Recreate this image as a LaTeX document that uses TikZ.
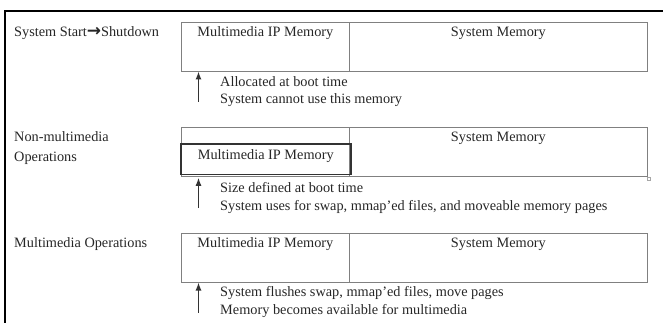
\documentclass[tikz,border=0pt]{standalone}
\usepackage{fontspec}
\setmainfont{Liberation Serif}
\newfontfamily\arrowfont{DejaVu Sans}
\usetikzlibrary{arrows.meta}
\begin{document}
\begin{tikzpicture}[x=1pt,y=-1pt,
  txt/.style={font=\fontsize{14.3}{17}\selectfont, text=black!85, inner sep=0pt, anchor=base west},
  ctxt/.style={txt, anchor=base},
  membox/.style={draw=black!50, line width=0.8pt, inner sep=0pt, anchor=north west, minimum height=49pt},
  mipbox/.style={draw=black!80, line width=1.6pt, inner sep=0pt, anchor=north west},
  uparr/.style={draw=black!80, line width=1.2pt, -{Latex[length=8pt,width=6pt]}},
  framestyle/.style={line width=2pt, draw=black}]
\useasboundingbox (0,0) rectangle (663,323);
% outer frame
\coordinate (fbl) at (4.5,323);
\coordinate (ftl) at (4.5,11);
\coordinate (ftr) at (663,11);
\draw[framestyle] (fbl) -- (ftl) -- (ftr);

% Row 1
\node[membox, minimum width=168pt] (mip1) at (181,21.7) {};
\node[membox, minimum width=298pt] (sys1) at (349,21.7) {};
\node[txt] (lab1) at (14,36.7) {System Start{\arrowfont\bfseries\fontsize{17}{17}\selectfont →}Shutdown};
\node[ctxt] (mipt1) at ([yshift=-15pt]mip1.north) {Multimedia IP Memory};
\node[ctxt] (syst1) at ([yshift=-15pt]sys1.north) {System Memory};
\coordinate (a1) at (198.5,101.7);
\draw[uparr] (a1) -- (a1 |- mip1.south);
\node[txt] (n1a) at (220,86.7) {Allocated at boot time};
\node[txt] (n1b) at (220,104) {System cannot use this memory};

% Row 2
\node[membox, minimum width=168pt, minimum height=49.3pt] (mip2) at (181,126.7) {};
\node[membox, minimum width=298pt, minimum height=49.3pt] (sys2) at (349,126.7) {};
\node[mipbox, minimum width=170pt, minimum height=30.5pt] (mipin2) at (180,143.3) {};
\node[txt] (lab2a) at (14,141.7) {Non-multimedia};
\node[txt] (lab2b) at (14,161) {Operations};
\node[ctxt] (syst2) at ([yshift=-15pt]sys2.north) {System Memory};
\node[ctxt] (mipt2) at (mipin2.north |- 0,160) {Multimedia IP Memory};
\node[draw=black!35, line width=0.4pt, minimum size=3pt, inner sep=0pt] (hdl) at (649,179) {};
\coordinate (a2) at (198.5,208);
\draw[uparr] (a2) -- ([yshift=-1pt]a2 |- mip2.south);
\node[txt] (n2a) at (220,192.3) {Size defined at boot time};
\node[txt] (n2b) at (220,210) {System uses for swap, mmap’ed files, and moveable memory pages};

% Row 3
\node[membox, minimum width=168pt] (mip3) at (181,232.7) {};
\node[membox, minimum width=298pt] (sys3) at (349,232.7) {};
\node[txt] (lab3) at (14,247.7) {Multimedia Operations};
\node[ctxt] (mipt3) at ([yshift=-15pt]mip3.north) {Multimedia IP Memory};
\node[ctxt] (syst3) at ([yshift=-15pt]sys3.north) {System Memory};
\coordinate (a3) at (198.5,312.7);
\draw[uparr] (a3) -- (a3 |- mip3.south);
\node[txt] (n3a) at (220,296.7) {System flushes swap, mmap’ed files, move pages};
\node[txt] (n3b) at (220,314) {Memory becomes available for multimedia};
\end{tikzpicture}
\end{document}
